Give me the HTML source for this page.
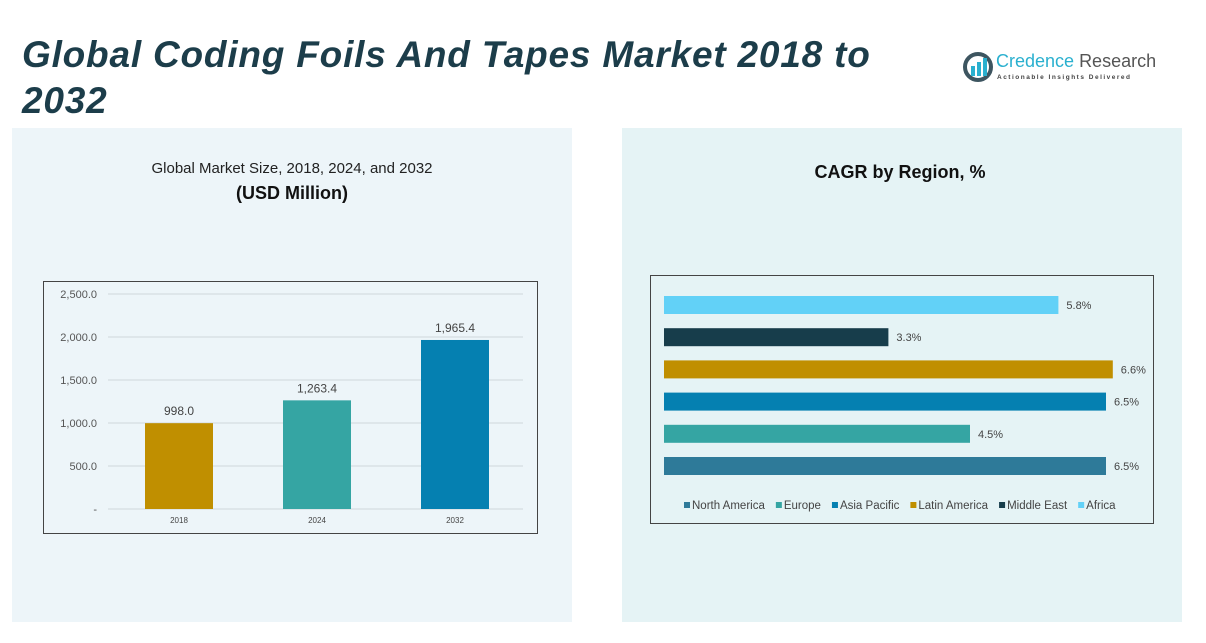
<!DOCTYPE html>
<html><head><meta charset="utf-8"><style>
body{margin:0;width:1206px;height:643px;background:#fff;font-family:"Liberation Sans",sans-serif;position:relative;overflow:hidden}
.abs{position:absolute}
</style></head><body>
<div class="abs" style="left:12px;top:128px;width:560px;height:494px;background:#edf5f9"></div>
<div class="abs" style="left:622px;top:128px;width:560px;height:494px;background:#e5f3f5"></div>
<div class="abs" style="left:22px;top:32px;width:880px;font-size:37px;letter-spacing:0.8px;font-weight:bold;font-style:italic;color:#1c3d4a;line-height:46px">Global Coding Foils And Tapes Market 2018 to 2032</div>
<div class="abs" style="left:962px;top:50px;width:200px;height:40px">
<svg width="34" height="34" class="abs" style="left:0;top:0"><circle cx="16" cy="17" r="13" fill="none" stroke="#3d5560" stroke-width="4"/><rect x="9" y="16" width="4" height="10" fill="#2ab0cf"/><rect x="15" y="12" width="4" height="14" fill="#2ab0cf"/><rect x="21" y="8" width="4" height="18" fill="#2ab0cf"/></svg>
<div class="abs" style="left:34px;top:1px;font-size:18px;color:#2ab0cf;white-space:nowrap">Credence <span style="color:#555">Research</span></div>
<div class="abs" style="left:35px;top:24px;font-size:6.5px;letter-spacing:1.5px;color:#444;white-space:nowrap;font-weight:bold">Actionable Insights Delivered</div>
</div>
<div class="abs" style="left:42px;top:160px;width:500px;text-align:center;font-size:15px;color:#222">Global Market Size, 2018, 2024, and 2032</div>
<div class="abs" style="left:42px;top:183px;width:500px;text-align:center;font-size:18px;font-weight:bold;color:#111">(USD Million)</div>
<div class="abs" style="left:650px;top:162px;width:500px;text-align:center;font-size:18px;font-weight:bold;color:#111">CAGR by Region, %</div>
<svg class="abs" style="left:0;top:0" width="1206" height="643" id="svg">
<rect x="43.5" y="281.5" width="494" height="252" fill="none" stroke="#444" stroke-width="1"/>
<rect x="650.5" y="275.5" width="503" height="248" fill="none" stroke="#444" stroke-width="1"/>
<g id="left"></g><g id="right"></g>
</svg>
<script>
const years=["2018","2024","2032"];
const sizes=[998.0,1263.4,1965.4];
const yTicks=[0,500,1000,1500,2000,2500];
const regions=["North America","Europe","Asia Pacific","Latin America","Middle East","Africa"];
const cagr=[6.5,4.5,6.5,6.6,3.3,5.8];
const colors=["#2e7a99","#35a5a3","#0580b1","#c08f00","#173d4b","#62d1f7"];
const barColors=["#c08f00","#35a5a3","#0580b1"];
const NS="http://www.w3.org/2000/svg";
function mk(tag,attrs,parent,txt){const e=document.createElementNS(NS,tag);for(const k in attrs)e.setAttribute(k,attrs[k]);if(txt!==undefined)e.textContent=txt;parent.appendChild(e);return e;}
const L=document.getElementById('left');
const y=v=>509-v*(215/2500);
const xc=i=>179+i*138;
yTicks.forEach(t=>{
 const g=mk('line',{x1:108,x2:523,y1:y(t),y2:y(t),stroke:"#cfd8dc","stroke-width":1},L);
 
 const lb=mk('text',{x:97,y:y(t)+4,"text-anchor":"end","font-size":11,fill:"#555","font-family":"Liberation Sans"},L,t===0?"-":t.toLocaleString('en-US',{minimumFractionDigits:1}));
 
});
sizes.forEach((v,i)=>{
 const r=mk('rect',{x:xc(i)-34,y:y(v),width:68,height:y(0)-y(v),fill:barColors[i]},L);
 
 const t=mk('text',{x:xc(i),y:y(v)-8,"text-anchor":"middle","font-size":12,fill:"#444","font-family":"Liberation Sans"},L,v.toLocaleString('en-US',{minimumFractionDigits:1}));
 
 const c=mk('text',{x:xc(i),y:523,"text-anchor":"middle","font-size":8,fill:"#444","font-family":"Liberation Sans"},L,years[i]);
 
});
const R=document.getElementById('right');
const xs=v=>664+v*68;
const yc=i=>466-i*32.2;
cagr.forEach((v,i)=>{
 const r=mk('rect',{x:664,y:yc(i)-9,width:xs(v)-664,height:18,fill:colors[i]},R);
 
 const t=mk('text',{x:xs(v)+8,y:yc(i)+4,"font-size":11,fill:"#444","font-family":"Liberation Sans"},R,v.toFixed(1)+"%");
 
});
let lx=684;
regions.forEach((n,i)=>{
 const s=mk('rect',{x:lx,y:502,width:6,height:6,fill:colors[i]},R);
 
 const t=mk('text',{x:lx+8,y:509,"font-size":11.5,fill:"#444","font-family":"Liberation Sans"},R,n);
 
 lx+=8+t.getComputedTextLength()+11;
});
</script>
</body></html>
